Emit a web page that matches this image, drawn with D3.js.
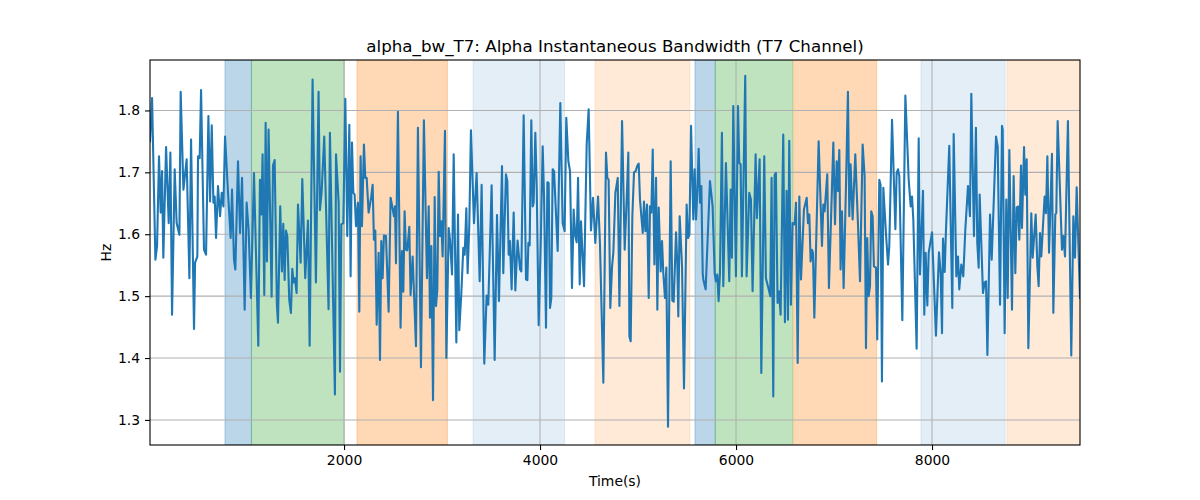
<!DOCTYPE html>
<html>
<head>
<meta charset="utf-8">
<script src="https://cdn.jsdelivr.net/npm/d3@7"></script>
<style>
  body { margin: 0; background: #fff; }
  text { font-family: "DejaVu Sans", sans-serif; fill: #000; }
</style>
</head>
<body>
<div id="chart"></div>
<script>
const width = 1200;
const height = 500;
const margin = {top: 60, right: 120, bottom: 55, left: 150};

const chartTitle = 'alpha_bw_T7: Alpha Instantaneous Bandwidth (T7 Channel)';
const xLabel = 'Time(s)';
const yLabel = 'Hz';

const xTicks = [2000, 4000, 6000, 8000];
const yTicks = [1.3, 1.4, 1.5, 1.6, 1.7, 1.8];
const xDomain = [20, 9510];
const yDomain = [1.2595, 1.8815];

// shaded segments (start, end, kind)
const bandStart = [785, 1055, 2132, 3316, 4561, 5581, 5788, 6588, 7887, 8765];
const bandEnd   = [1055, 2002, 3055, 4250, 5528, 5788, 6578, 7435, 8746, 9600];
const bandKind  = ['b', 'g', 'o', 'lb', 'lo', 'b', 'g', 'o', 'lb', 'lo'];

const times = [
  20, 41, 75, 92, 112, 129, 143, 156, 184, 211, 228, 245, 272, 292, 320, 333, 361, 394, 422, 439,
  469, 480, 503, 510, 527, 541, 571, 592, 616, 633, 650, 667, 680, 694, 714, 735, 752, 769, 786, 816,
  843, 857, 877, 891, 918, 939, 959,
  986, 1006, 1026, 1050, 1081, 1125, 1142, 1156, 1169, 1186, 1200, 1213, 1230, 1261, 1275, 1292, 1315, 1326, 1349, 1366,
  1380, 1394, 1407, 1421, 1441, 1458, 1472, 1485, 1499, 1516, 1530, 1557, 1574, 1604, 1632, 1649, 1679, 1713, 1740, 1754,
  1771, 1798, 1842, 1856, 1907,
  1918, 1945, 1959, 1972, 1993, 2013, 2033, 2054, 2067, 2081, 2095, 2108, 2122, 2142, 2156, 2169, 2183, 2203, 2217, 2231,
  2251, 2278, 2292, 2305, 2319, 2333, 2353, 2367, 2380, 2394, 2407, 2428, 2455, 2475, 2492, 2509, 2520, 2530, 2550, 2577,
  2591, 2605, 2618, 2632, 2645, 2666, 2679, 2700, 2734, 2754, 2785, 2815, 2846,
  2864, 2877, 2891, 2908, 2925, 2938, 2952, 2966, 2979, 2993, 3006, 3030, 3044, 3068, 3081, 3102, 3119, 3146, 3163, 3176,
  3197, 3217, 3231, 3248, 3261, 3278, 3295, 3326, 3353, 3384, 3404, 3431, 3455, 3472, 3506, 3537, 3561, 3581, 3612, 3625,
  3652, 3666, 3680, 3693, 3710, 3731, 3748, 3771,
  3796, 3809, 3833, 3857, 3871, 3881, 3894, 3911, 3925, 3935, 3952, 3966, 3986, 4007, 4027, 4041, 4061, 4075, 4088, 4102,
  4115, 4129, 4143, 4180, 4207, 4231, 4251, 4268, 4289, 4306, 4326, 4343, 4360, 4374, 4388, 4405, 4418, 4449, 4476, 4496,
  4520, 4541, 4564, 4592, 4612, 4646, 4673, 4687, 4700, 4717,
  4735, 4748, 4769, 4793, 4810, 4837, 4864, 4884, 4901, 4912, 4925, 4942, 4959, 4976, 4993, 5007, 5020, 5048, 5061, 5075,
  5092, 5109, 5122, 5136, 5150, 5167, 5184, 5197, 5211, 5231, 5245, 5258, 5275, 5289, 5306, 5333, 5350, 5364, 5388, 5401,
  5411, 5425, 5449, 5469, 5496, 5510, 5524, 5541, 5564, 5578, 5592, 5606, 5619, 5633, 5646, 5660,
  5666, 5690, 5734, 5761, 5782, 5795, 5809, 5822, 5836, 5856, 5870, 5897, 5931, 5945, 5958, 5972, 5999, 6020, 6033, 6047,
  6060, 6094, 6108, 6135, 6152, 6169, 6200, 6213, 6241, 6258, 6288, 6305, 6332, 6349, 6363, 6380, 6394, 6407, 6424, 6438,
  6455, 6482, 6499, 6516, 6530, 6543, 6560, 6577, 6598,
  6612, 6629, 6646, 6663, 6693, 6721, 6734, 6748, 6761, 6775, 6785, 6799, 6843, 6877, 6891, 6904, 6931, 6948, 6993, 7010,
  7027, 7040, 7054, 7067, 7081, 7098, 7122, 7142, 7156, 7169, 7190, 7217, 7244, 7265, 7292, 7312, 7326, 7339, 7353, 7367,
  7380, 7394, 7407, 7428, 7441, 7462, 7475, 7489, 7503, 7530,
  7551, 7564, 7592, 7626, 7639, 7653, 7666, 7697, 7728, 7762, 7782, 7796, 7809, 7843, 7864, 7877, 7908, 7921, 7935, 7952,
  7966, 8000, 8040, 8071, 8088, 8102, 8112, 8129, 8142, 8176, 8207, 8221, 8248, 8265, 8278, 8299, 8319, 8340, 8367, 8387,
  8401, 8428, 8448, 8462, 8476,
  8486, 8520, 8537, 8551, 8565, 8592, 8609, 8653, 8670, 8694, 8714, 8721, 8741, 8758, 8772, 8789, 8816, 8833, 8850, 8864,
  8877, 8891, 8908, 8918, 8939, 8952, 8966, 8983, 9013, 9027, 9058, 9075, 9088, 9102, 9115, 9149, 9163, 9177, 9194, 9224,
  9238, 9258, 9268, 9282, 9326, 9340, 9357, 9387, 9421, 9442, 9459, 9476, 9510
];

const bw = [
  1.750, 1.820, 1.559, 1.581, 1.726, 1.635, 1.702, 1.562, 1.741, 1.618, 1.732, 1.470, 1.705, 1.618, 1.599, 1.830, 1.672, 1.721, 1.529, 1.753,
  1.447, 1.554, 1.564, 1.726, 1.723, 1.833, 1.575, 1.567, 1.791, 1.653, 1.776, 1.651, 1.661, 1.594, 1.678, 1.629, 1.667, 1.645, 1.758, 1.667,
  1.594, 1.672, 1.559, 1.543, 1.718, 1.602, 1.691,
  1.478, 1.651, 1.608, 1.497, 1.699, 1.420, 1.688, 1.632, 1.729, 1.502, 1.780, 1.556, 1.769, 1.499, 1.711, 1.720, 1.486, 1.457, 1.645, 1.540,
  1.617, 1.526, 1.606, 1.597, 1.494, 1.473, 1.544, 1.522, 1.529, 1.505, 1.648, 1.554, 1.689, 1.529, 1.622, 1.420, 1.850, 1.522, 1.830, 1.639,
  1.667, 1.758, 1.479, 1.764, 1.341,
  1.729, 1.651, 1.378, 1.616, 1.618, 1.819, 1.597, 1.777, 1.532, 1.748, 1.667, 1.664, 1.613, 1.651, 1.475, 1.726, 1.613, 1.745, 1.691, 1.691,
  1.635, 1.661, 1.680, 1.591, 1.606, 1.454, 1.570, 1.397, 1.589, 1.529, 1.598, 1.597, 1.475, 1.659, 1.645, 1.629, 1.645, 1.553, 1.798, 1.449,
  1.573, 1.507, 1.637, 1.575, 1.574, 1.612, 1.502, 1.564, 1.419, 1.772, 1.385, 1.784, 1.529,
  1.645, 1.465, 1.581, 1.332, 1.660, 1.484, 1.511, 1.701, 1.597, 1.621, 1.564, 1.767, 1.400, 1.610, 1.591, 1.535, 1.729, 1.425, 1.632, 1.445,
  1.505, 1.578, 1.567, 1.642, 1.537, 1.613, 1.768, 1.618, 1.699, 1.524, 1.680, 1.391, 1.501, 1.486, 1.679, 1.397, 1.631, 1.492, 1.710, 1.537,
  1.697, 1.686, 1.567, 1.589, 1.511, 1.635, 1.509, 1.590,
  1.543, 1.540, 1.792, 1.527, 1.526, 1.586, 1.582, 1.784, 1.645, 1.651, 1.764, 1.678, 1.453, 1.583, 1.742, 1.661, 1.449, 1.684, 1.683, 1.481,
  1.497, 1.705, 1.702, 1.573, 1.812, 1.618, 1.605, 1.788, 1.718, 1.702, 1.513, 1.640, 1.597, 1.587, 1.691, 1.519, 1.621, 1.516, 1.745, 1.802,
  1.606, 1.659, 1.586, 1.661, 1.583, 1.360, 1.732, 1.691, 1.688, 1.481,
  1.548, 1.570, 1.667, 1.691, 1.484, 1.783, 1.575, 1.656, 1.732, 1.435, 1.427, 1.629, 1.700, 1.702, 1.711, 1.714, 1.656, 1.602, 1.653, 1.605,
  1.648, 1.497, 1.645, 1.635, 1.737, 1.551, 1.691, 1.478, 1.643, 1.540, 1.589, 1.537, 1.497, 1.546, 1.289, 1.718, 1.493, 1.491, 1.603, 1.551,
  1.467, 1.629, 1.548, 1.351, 1.648, 1.594, 1.599, 1.775, 1.624, 1.705, 1.624, 1.672, 1.738, 1.651, 1.678, 1.537,
  1.527, 1.511, 1.686, 1.645, 1.537, 1.524, 1.535, 1.492, 1.537, 1.764, 1.516, 1.715, 1.524, 1.672, 1.562, 1.807, 1.532, 1.807, 1.715, 1.713,
  1.532, 1.856, 1.532, 1.667, 1.656, 1.508, 1.729, 1.626, 1.721, 1.376, 1.726, 1.529, 1.512, 1.500, 1.691, 1.338, 1.696, 1.699, 1.489, 1.508,
  1.470, 1.761, 1.458, 1.670, 1.462, 1.751, 1.486, 1.618, 1.616,
  1.651, 1.392, 1.661, 1.527, 1.640, 1.659, 1.618, 1.632, 1.556, 1.575, 1.570, 1.465, 1.750, 1.581, 1.648, 1.637, 1.697, 1.513, 1.748, 1.616,
  1.718, 1.670, 1.736, 1.543, 1.637, 1.513, 1.678, 1.830, 1.629, 1.713, 1.624, 1.729, 1.618, 1.524, 1.745, 1.694, 1.416, 1.594, 1.500, 1.516,
  1.637, 1.629, 1.548, 1.546, 1.430, 1.688, 1.680, 1.362, 1.675, 1.601,
  1.551, 1.581, 1.785, 1.608, 1.699, 1.705, 1.694, 1.461, 1.824, 1.688, 1.645, 1.661, 1.624, 1.415, 1.755, 1.535, 1.670, 1.470, 1.570, 1.485,
  1.570, 1.603, 1.436, 1.571, 1.537, 1.440, 1.593, 1.539, 1.605, 1.743, 1.481, 1.762, 1.532, 1.564, 1.511, 1.551, 1.532, 1.608, 1.678, 1.629,
  1.827, 1.597, 1.772, 1.586, 1.546,
  1.664, 1.505, 1.522, 1.524, 1.405, 1.632, 1.559, 1.758, 1.742, 1.486, 1.775, 1.769, 1.440, 1.656, 1.497, 1.736, 1.478, 1.694, 1.537, 1.643,
  1.645, 1.591, 1.711, 1.610, 1.741, 1.664, 1.721, 1.416, 1.634, 1.562, 1.632, 1.548, 1.516, 1.602, 1.564, 1.661, 1.634, 1.726, 1.570, 1.730,
  1.473, 1.632, 1.634, 1.783, 1.575, 1.597, 1.564, 1.783, 1.404, 1.629, 1.562, 1.676, 1.497
];

const bandStyle = {
  b:  {fill: '#1f77b4', opacity: 0.3},
  g:  {fill: '#2ca02c', opacity: 0.3},
  o:  {fill: '#ff7f0e', opacity: 0.3},
  lb: {fill: '#1f77b4', opacity: 0.12},
  lo: {fill: '#ff7f0e', opacity: 0.16}
};

const innerW = width - margin.left - margin.right;
const innerH = height - margin.top - margin.bottom;

const svg = d3.select('#chart')
              .append('svg')
              .attr('width', width)
              .attr('height', height);

const xScale = d3.scaleLinear().domain(xDomain).range([margin.left, margin.left + innerW]);
const yScale = d3.scaleLinear().domain(yDomain).range([margin.top + innerH, margin.top]);

svg.append('defs').append('clipPath')
   .attr('id', 'plot-clip')
   .append('rect')
   .attr('x', margin.left).attr('y', margin.top)
   .attr('width', innerW).attr('height', innerH);

// shaded bands
const bands = bandStart.map((s, i) => ({s, e: bandEnd[i], k: bandKind[i]}));
svg.append('g')
   .attr('clip-path', 'url(#plot-clip)')
   .selectAll('rect')
   .data(bands)
   .enter()
   .append('rect')
   .attr('x', d => xScale(d.s))
   .attr('y', margin.top)
   .attr('width', d => xScale(d.e) - xScale(d.s))
   .attr('height', innerH)
   .attr('fill', d => bandStyle[d.k].fill)
   .attr('fill-opacity', d => bandStyle[d.k].opacity)
   .attr('stroke', d => bandStyle[d.k].fill)
   .attr('stroke-opacity', d => bandStyle[d.k].opacity)
   .attr('stroke-width', 1);

// grid
const grid = svg.append('g');
grid.selectAll('.gx')
    .data(xTicks)
    .enter()
    .append('line')
    .attr('x1', d => xScale(d)).attr('x2', d => xScale(d))
    .attr('y1', margin.top).attr('y2', margin.top + innerH)
    .attr('stroke', '#b0b0b0').attr('stroke-width', 1.1);
grid.selectAll('.gy')
    .data(yTicks)
    .enter()
    .append('line')
    .attr('y1', d => yScale(d)).attr('y2', d => yScale(d))
    .attr('x1', margin.left).attr('x2', margin.left + innerW)
    .attr('stroke', '#b0b0b0').attr('stroke-width', 1.1);

// line
const series = times.map((t, i) => [t, bw[i]]);
const line = d3.line()
               .x(d => xScale(d[0]))
               .y(d => yScale(d[1]));
svg.append('path')
   .datum(series)
   .attr('clip-path', 'url(#plot-clip)')
   .attr('d', line)
   .attr('fill', 'none')
   .attr('stroke', '#1f77b4')
   .attr('stroke-width', 2.1)
   .attr('stroke-linejoin', 'round')
   .attr('stroke-linecap', 'square');

// axes
const xAxis = d3.axisBottom(xScale).tickValues(xTicks).tickSize(5).tickPadding(5).tickFormat(d3.format('d'));
const yAxis = d3.axisLeft(yScale).tickValues(yTicks).tickSize(5).tickPadding(5).tickFormat(d3.format('.1f'));

svg.append('g')
   .attr('transform', 'translate(0,' + (margin.top + innerH) + ')')
   .call(xAxis)
   .call(g => g.select('.domain').remove())
   .call(g => g.selectAll('line').attr('stroke', '#000').attr('stroke-width', 1.1))
   .call(g => g.selectAll('text').attr('font-size', '13.9px').attr('font-family', '"DejaVu Sans", sans-serif').attr('fill', '#000'));

svg.append('g')
   .attr('transform', 'translate(' + margin.left + ',0)')
   .call(yAxis)
   .call(g => g.select('.domain').remove())
   .call(g => g.selectAll('line').attr('stroke', '#000').attr('stroke-width', 1.1))
   .call(g => g.selectAll('text').attr('font-size', '13.9px').attr('font-family', '"DejaVu Sans", sans-serif').attr('fill', '#000'));

// frame
svg.append('rect')
   .attr('x', margin.left).attr('y', margin.top)
   .attr('width', innerW).attr('height', innerH)
   .attr('fill', 'none')
   .attr('stroke', '#000')
   .attr('stroke-width', 1.1);

// texts
svg.append('text')
   .attr('x', margin.left + innerW / 2)
   .attr('y', margin.top - 8)
   .attr('text-anchor', 'middle')
   .attr('font-size', '16.7px')
   .text(chartTitle);

svg.append('text')
   .attr('x', margin.left + innerW / 2)
   .attr('y', 486)
   .attr('text-anchor', 'middle')
   .attr('font-size', '13.9px')
   .text(xLabel);

svg.append('text')
   .attr('transform', 'translate(111,' + (margin.top + innerH / 2) + ') rotate(-90)')
   .attr('text-anchor', 'middle')
   .attr('font-size', '13.9px')
   .text(yLabel);
</script>
</body>
</html>
